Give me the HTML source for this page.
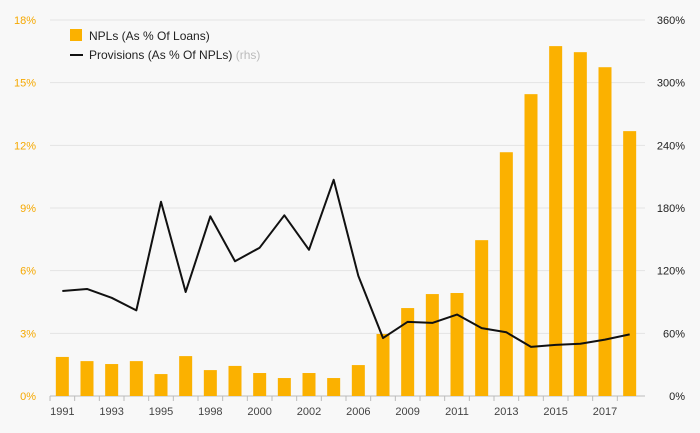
<!DOCTYPE html>
<html><head><meta charset="utf-8"><style>
html,body{margin:0;padding:0;background:#f8f8f8;}
svg{display:block;font-family:"Liberation Sans",sans-serif;}
</style></head><body>
<svg id="chart" width="700" height="433" viewBox="0 0 700 433"></svg>
<script>
const categories=["1991","1992","1993","1994","1995","1997","1998","1999","2000","2001","2002","2004","2006","2008","2009","2010","2011","2012","2013","2014","2015","2016","2017","2018"];
const npls=[1.87,1.67,1.53,1.67,1.05,1.91,1.24,1.44,1.10,0.86,1.10,0.86,1.48,2.97,4.21,4.88,4.93,7.46,11.67,14.45,16.75,16.46,15.74,12.68];
const provisions=[100.5,102.5,94,82,186,99.6,172,129,142,173,140,207,115,55.5,71,70,78,65,61,47,49,50,54,59];
const leftTicks=[0,3,6,9,12,15,18];
const rightTicks=[0,60,120,180,240,300,360];
const shownLabels=["1991","1993","1995","1998","2000","2002","2006","2009","2011","2013","2015","2017"];

const NS="http://www.w3.org/2000/svg";
const svg=document.getElementById('chart');
const x0=50,x1=642,yB=396,yT=20;
const step=(x1-x0)/categories.length;
const xc=i=>x0+step*(i+0.5);
const yL=v=>yB-(v/18)*(yB-yT);
const yR=v=>yB-(v/360)*(yB-yT);
function mk(tag,attrs,parent){const e=document.createElementNS(NS,tag);for(const k in attrs)e.setAttribute(k,attrs[k]);(parent||svg).appendChild(e);return e;}

leftTicks.forEach((t,i)=>{
  const g=mk('line',{x1:x0,x2:645,y1:yL(t),y2:yL(t),stroke:t===0?'#bbb':'#e4e4e4','stroke-width':1});
  
  
  const a=mk('text',{x:36,y:yL(t)+4,'text-anchor':'end','font-size':11,fill:'#f5a800'});
  a.textContent=t+'%';
  
  
  const b=mk('text',{x:685,y:yR(rightTicks[i])+4,'text-anchor':'end','font-size':11,fill:'#222'});
  b.textContent=rightTicks[i]+'%';
  
  
});

categories.forEach((c,i)=>{
  const r=mk('rect',{x:xc(i)-6.5,y:yL(npls[i]),width:13,height:yB-yL(npls[i]),fill:'#fbb100'});
  
  
  const tk=mk('line',{x1:xc(i)-step/2,x2:xc(i)-step/2,y1:yB,y2:yB+5,stroke:'#bbb'});
  
  
  if(shownLabels.includes(c)){
    const t=mk('text',{x:xc(i),y:415,'text-anchor':'middle','font-size':11,fill:'#444'});
    t.textContent=c;
    
    
  }
});

const pl=mk('polyline',{points:provisions.map((v,i)=>xc(i)+','+yR(v)).join(' '),fill:'none',stroke:'#111','stroke-width':2,'stroke-linejoin':'round'});



const lg=mk('g',{});


const lr=mk('rect',{x:70,y:29,width:12,height:12,fill:'#fbb100'},lg);


const lt=mk('text',{x:89,y:40,'font-size':12,fill:'#222'},lg);
lt.textContent='NPLs (As % Of Loans)';


const ll=mk('line',{x1:70,x2:83,y1:55,y2:55,stroke:'#111','stroke-width':2},lg);


const lt2=mk('text',{x:89,y:59,'font-size':12,fill:'#222'},lg);


lt2.innerHTML='Provisions (As % Of NPLs) <tspan fill="#bbb">(rhs)</tspan>';
</script>
</body></html>
